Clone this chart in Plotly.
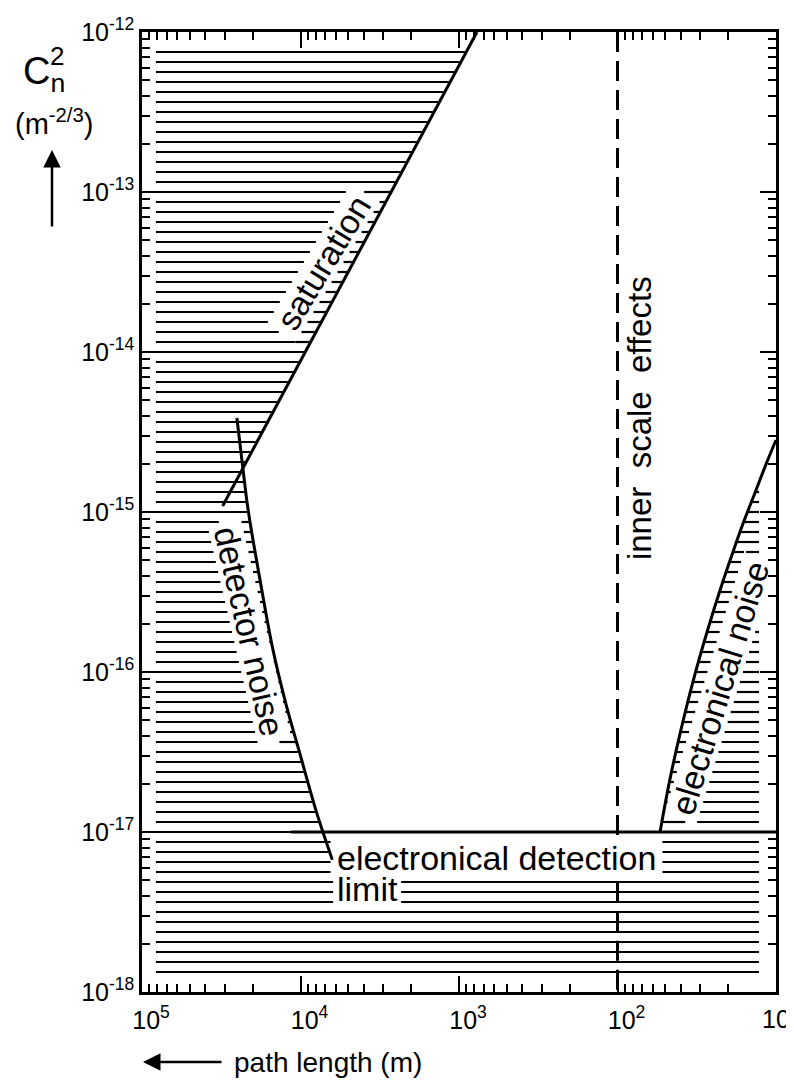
import numpy as np
import plotly.graph_objects as go

# ---------------- data ----------------
x_tick_vals = [1e5, 1e4, 1e3, 1e2, 1e1]
x_tick_text = ["10<sup>5</sup>", "10<sup>4</sup>", "10<sup>3</sup>", "10<sup>2</sup>", "10"]
y_tick_vals = [1e-18, 1e-17, 1e-16, 1e-15, 1e-14, 1e-13, 1e-12]
y_tick_text = ["10<sup>-18</sup>", "10<sup>-17</sup>", "10<sup>-16</sup>", "10<sup>-15</sup>",
               "10<sup>-14</sup>", "10<sup>-13</sup>", "10<sup>-12</sup>"]

# saturation boundary (path length m, Cn2)
saturation_x = [3.1e4, 7.7e2]
saturation_y = [1.09e-15, 1.0e-12]

# detector noise boundary
detector_x = [25200, 23100, 21400, 18000, 14900, 12300, 10100, 8000, 6300]
detector_y = [3.87e-15, 1.88e-15, 1.03e-15, 3.76e-16, 1.37e-16, 6.2e-17, 3.1e-17, 1.37e-17, 6.7e-18]

# electronical noise boundary
electronic_x = [53.9, 46.8, 40.2, 33.2, 27.0, 22.2, 18.5, 16.1, 13.6, 11.6, 10.0]
electronic_y = [1.0e-17, 2.11e-17, 4.16e-17, 8.9e-17, 1.83e-16, 3.4e-16, 5.79e-16,
                8.53e-16, 1.31e-15, 1.97e-15, 2.82e-15]

# electronical detection limit
detection_limit_x = [1.15e4, 10]
detection_limit_y = [1e-17, 1e-17]

# inner scale effects
inner_scale_x = [100, 100]
inner_scale_y = [1e-18, 1e-12]

# ---------------- geometry / style ----------------
PAGE_OFF = 8                 # default body margin of the html page
W, H = 794, 1084             # browser window
PL, PR, PT, PB = 142, 776, 32, 992   # plot area in window pixels
XR = (5.0, 1.0)      # log10 range, reversed
YR = (-18.0, -12.0)
FONT = "Liberation Sans, Arial, Helvetica, sans-serif"
TICK_SIZE = 25

HATCH_PER_DECADE = 16
hatch_log_levels = -17 + np.arange(-14, 79) / HATCH_PER_DECADE


def lx_to_px(lx):
    return PL + (lx - XR[0]) / (XR[1] - XR[0]) * (PR - PL)


def px_to_lx(p):
    return XR[0] + (p - PL) / (PR - PL) * (XR[1] - XR[0])


def ly_to_py(ly):
    return PT + (ly - YR[1]) / (YR[0] - YR[1]) * (PB - PT)


def py_to_ly(p):
    return YR[1] + (p - PT) / (PB - PT) * (YR[0] - YR[1])


def curve_lx_at(ly, cx, cy):
    lcx = np.log10(np.asarray(cx, float))
    lcy = np.log10(np.asarray(cy, float))
    o = np.argsort(lcy)
    lcx, lcy = lcx[o], lcy[o]
    if ly < lcy[0] - 1e-9 or ly > lcy[-1] + 1e-9:
        return None
    return float(np.interp(ly, lcy, lcx))


hatch_left = px_to_lx(156)
hatch_right = px_to_lx(759)

# labels: text, data position, angle, font size, mask half length / half height (px)
labels = [
    dict(text="saturation", x=7200, y=3.6e-14, angle=-59, size=34, hl=82, hh=17),
    dict(text="detector noise", x=21000, y=1.78e-16, angle=77, size=34, hl=114, hh=17),
    dict(text="electronical noise", x=22.5, y=7.9e-17, angle=-73, size=34, hl=138, hh=17),
    dict(text="inner \u00a0scale \u00a0effects", x=72, y=3.87e-15, angle=-90, size=33, hl=0, hh=0),
    dict(text="electronical detection", x=580, y=6.9e-18, angle=0, size=34, hl=166, hh=19),
    dict(text="limit", x=3800, y=4.4e-18, angle=0, size=34, hl=34, hh=14),
]


def mask_interval(y0, m):
    cx = lx_to_px(np.log10(m["x"]))
    cy = ly_to_py(np.log10(m["y"]))
    t = np.radians(m["angle"])
    u = (np.cos(t), np.sin(t))
    v = (-np.sin(t), np.cos(t))
    lo, hi = -1e9, 1e9
    for (a_x, a_y), lim in ((u, m["hl"]), (v, m["hh"])):
        b = -cx * a_x + (y0 - cy) * a_y
        if abs(a_x) < 1e-9:
            if abs(b) > lim:
                return None
            continue
        r1, r2 = (-lim - b) / a_x, (lim - b) / a_x
        lo, hi = max(lo, min(r1, r2)), min(hi, max(r1, r2))
    if lo >= hi:
        return None
    return lo, hi


def subtract(intervals, cut):
    out = []
    for a, b in intervals:
        if cut is None or cut[1] <= a or cut[0] >= b:
            out.append((a, b))
            continue
        if cut[0] > a:
            out.append((a, cut[0]))
        if cut[1] < b:
            out.append((cut[1], b))
    return out


hx, hy = [], []
for ly in hatch_log_levels:
    ints = []
    if ly < -17 - 1e-9:
        ints.append((hatch_left, hatch_right))
    else:
        ends = [c for c in (curve_lx_at(ly, saturation_x, saturation_y),
                            curve_lx_at(ly, detector_x, detector_y)) if c is not None]
        if ends:
            ints.append((hatch_left, min(ends)))
        e = curve_lx_at(ly, electronic_x, electronic_y)
        if e is not None and e > hatch_right:
            ints.append((e, hatch_right))
    y0 = ly_to_py(ly)
    pix = [(lx_to_px(a), lx_to_px(b)) for a, b in ints]
    for m in labels:
        if m["hl"] > 0:
            pix = subtract(pix, mask_interval(y0, m))
    for a, b in pix:
        if b - a < 2:
            continue
        hx += [10 ** px_to_lx(a), 10 ** px_to_lx(b), None]
        hy += [10 ** ly, 10 ** ly, None]

# dashed inner-scale line, interrupted where it passes behind horizontal label text
vx_px = lx_to_px(np.log10(inner_scale_x[0]))
v_int = [(ly_to_py(np.log10(inner_scale_y[1])), ly_to_py(np.log10(inner_scale_y[0])))]
for m in labels:
    if m["hl"] > 0 and m["angle"] == 0:
        cx = lx_to_px(np.log10(m["x"]))
        cy = ly_to_py(np.log10(m["y"]))
        if abs(vx_px - cx) <= m["hl"]:
            v_int = subtract(v_int, (cy - m["hh"] + 2, cy + m["hh"] + 6))
vx, vy = [], []
for a, b in v_int:
    vx += [inner_scale_x[0], inner_scale_x[1], None]
    vy += [10 ** py_to_ly(a), 10 ** py_to_ly(b), None]

fig = go.Figure()
fig.add_trace(go.Scatter(x=hx, y=hy, mode="lines", line=dict(color="black", width=2.2),
                         hoverinfo="skip"))
fig.add_trace(go.Scatter(x=saturation_x, y=saturation_y, mode="lines",
                         line=dict(color="black", width=3)))
fig.add_trace(go.Scatter(x=detector_x, y=detector_y, mode="lines",
                         line=dict(color="black", width=3, shape="spline", smoothing=1)))
fig.add_trace(go.Scatter(x=electronic_x, y=electronic_y, mode="lines",
                         line=dict(color="black", width=3, shape="spline", smoothing=1)))
fig.add_trace(go.Scatter(x=detection_limit_x, y=detection_limit_y, mode="lines",
                         line=dict(color="black", width=3)))
fig.add_trace(go.Scatter(x=vx, y=vy, mode="lines",
                         line=dict(color="black", width=3, dash="20px,9px")))

annotations = []
for m in labels:
    annotations.append(dict(text=m["text"], x=np.log10(m["x"]), y=np.log10(m["y"]),
                            xref="x", yref="y", showarrow=False, textangle=m["angle"],
                            xanchor="center", yanchor="middle",
                            font=dict(size=m["size"], family=FONT, color="black")))


def paper_x(p):
    return (p - PL) / (PR - PL)


def paper_y(p):
    return 1 - (p - PT) / (PB - PT)


# the last x tick label ("10") sits exactly at the axis end; it is drawn as an
# annotation at its tick so the shift given to the other labels does not push it off the page
annotations.append(dict(text=x_tick_text[-1], x=np.log10(x_tick_vals[-1]), y=paper_y(1019),
                        xref="x", yref="paper", showarrow=False, xanchor="center",
                        yanchor="middle",
                        font=dict(size=TICK_SIZE, family=FONT, color="black")))

annotations += [
    dict(text="C<sub>n</sub>", x=paper_x(44), y=paper_y(74), xref="paper", yref="paper",
         showarrow=False, xanchor="center", yanchor="middle",
         font=dict(size=38, family=FONT, color="black")),
    dict(text="2", x=paper_x(57), y=paper_y(56), xref="paper", yref="paper",
         showarrow=False, xanchor="center", yanchor="middle",
         font=dict(size=26, family=FONT, color="black")),
    dict(text="(m<sup>-2/3</sup>)", x=paper_x(54), y=paper_y(122), xref="paper", yref="paper",
         showarrow=False, xanchor="center", yanchor="middle",
         font=dict(size=29, family=FONT, color="black")),
    dict(text="", x=paper_x(52), y=paper_y(150), xref="paper", yref="paper",
         showarrow=True, ax=0, ay=78, arrowhead=2, arrowsize=1.4, arrowwidth=2.5,
         arrowcolor="black"),
    dict(text="", x=paper_x(143), y=paper_y(1062), xref="paper", yref="paper",
         showarrow=True, ax=80, ay=0, arrowhead=2, arrowsize=1.4, arrowwidth=2.5,
         arrowcolor="black"),
    dict(text="path length (m)", x=paper_x(232), y=paper_y(1062), xref="paper", yref="paper",
         showarrow=False, xanchor="left", yanchor="middle",
         font=dict(size=28, family=FONT, color="black")),
]

axis_common = dict(
    type="log", ticks="inside", ticklen=16, tickwidth=2, tickcolor="black",
    showline=True, linewidth=2.5, linecolor="black", mirror="allticks",
    showgrid=False, zeroline=False,
    tickfont=dict(size=TICK_SIZE, family=FONT, color="black"),
    minor=dict(ticks="inside", ticklen=8, tickwidth=2, tickcolor="black", dtick="D1",
               showgrid=False),
)

fig.update_layout(
    width=W - PAGE_OFF, height=H - PAGE_OFF, autosize=False,
    margin=dict(l=PL - PAGE_OFF, r=W - PR, t=PT - PAGE_OFF, b=H - PB, autoexpand=False),
    paper_bgcolor="white", plot_bgcolor="white",
    showlegend=False,
    xaxis=dict(axis_common, range=list(XR), tickmode="array",
               tickvals=x_tick_vals, ticktext=x_tick_text[:-1] + [""],
               ticklabelshift=-9, ticklabelstandoff=4),
    yaxis=dict(axis_common, range=list(YR), tickmode="array",
               tickvals=y_tick_vals, ticktext=y_tick_text),
    annotations=annotations,
)

fig.write_html("out.html")
